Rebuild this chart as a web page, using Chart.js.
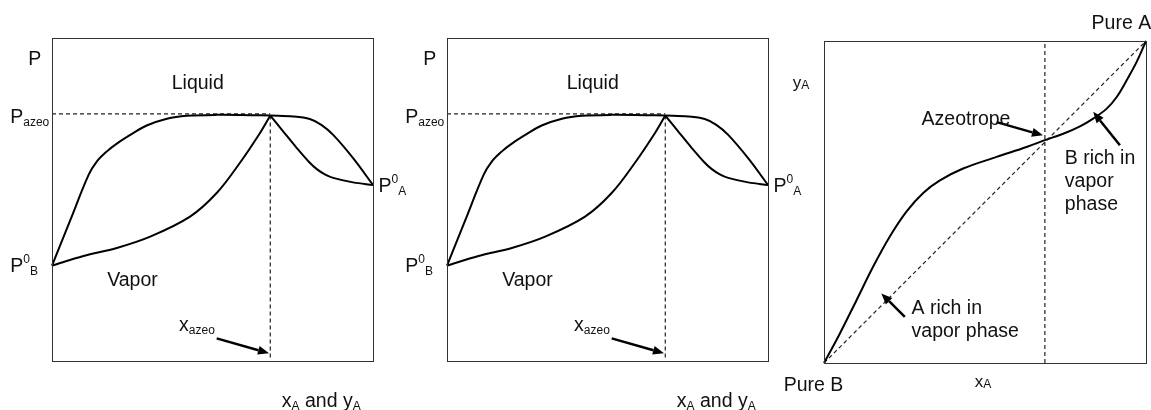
<!DOCTYPE html>
<html>
<head>
<meta charset="utf-8">
<script src="https://cdn.jsdelivr.net/npm/chart.js@4.4.1/dist/chart.umd.min.js"></script>
<style>
  html, body { margin:0; padding:0; background:#fff; }
  body { width:1151px; height:410px; position:relative; overflow:hidden; }
  canvas { position:absolute; top:0; }
</style>
</head>
<body>
<canvas id="c1" width="430" height="410" style="left:0px"></canvas>
<canvas id="c2" width="430" height="410" style="left:395px"></canvas>
<canvas id="c3" width="371" height="410" style="left:780px"></canvas>
<script>
// ---------- DATA (normalised composition 0..1, normalised pressure 0..1) ----------
const xAzeo = 0.68;
const pAzeo = 0.765;
const pPeak = 0.760;

// bubble (liquid) curve, B side of the azeotrope
const bubbleLeftX = [0, 0.057, 0.114, 0.140, 0.171, 0.202, 0.254, 0.295, 0.358, 0.420, 0.513, 0.617, 0.68];
const bubbleLeftY = [0.295, 0.436, 0.576, 0.618, 0.649, 0.673, 0.706, 0.729, 0.750, 0.759, 0.762, 0.761, 0.760];
// dew (vapor) curve, B side
const dewLeftX = [0, 0.098, 0.202, 0.306, 0.430, 0.513, 0.585, 0.648, 0.68];
const dewLeftY = [0.295, 0.325, 0.350, 0.385, 0.447, 0.520, 0.613, 0.706, 0.760];
// bubble curve, A side
const bubbleRightX = [0.68, 0.751, 0.803, 0.839, 0.876, 0.938, 1.0];
const bubbleRightY = [0.760, 0.757, 0.749, 0.731, 0.700, 0.628, 0.545];
// dew curve, A side
const dewRightX = [0.68, 0.720, 0.762, 0.800, 0.825, 0.850, 0.876, 0.938, 1.0];
const dewRightY = [0.760, 0.711, 0.660, 0.617, 0.594, 0.578, 0.567, 0.553, 0.545];

// y-x diagram
const yxX = [0, 0.049, 0.101, 0.152, 0.204, 0.256, 0.308, 0.360, 0.432, 0.536, 0.629, 0.686, 0.743, 0.795, 0.836, 0.878, 0.909, 0.940, 0.971, 1.0];
const yxY = [0, 0.091, 0.195, 0.298, 0.392, 0.470, 0.528, 0.567, 0.604, 0.640, 0.671, 0.692, 0.712, 0.735, 0.759, 0.790, 0.826, 0.878, 0.935, 1.0];
const diagX = [0, 1];
const diagY = [0, 1];

// ---------- helpers ----------
const FONT = '"Liberation Sans", Arial, Helvetica, sans-serif';
const BIG = 19.5, SMALL = 12;
const zip = (xs, ys) => xs.map((x, i) => ({ x, y: ys[i] }));

function curve(xs, ys) {
  return { data: zip(xs, ys), showLine: true, borderColor: '#000', borderWidth: 2,
    pointRadius: 0, tension: 0.35, clip: false, fill: false };
}
function dashed(points) {
  return { data: points, showLine: true, borderColor: '#222', borderWidth: 1.2,
    borderDash: [4, 3], pointRadius: 0, tension: 0, clip: false, fill: false };
}

const annotPlugin = {
  id: 'annot',
  afterDatasetsDraw(chart, args, opts) {
    const ctx = chart.ctx, ca = chart.chartArea;
    const sx = chart.scales.x, sy = chart.scales.y;
    ctx.save();
    ctx.strokeStyle = '#333';
    ctx.lineWidth = 1;
    ctx.strokeRect(Math.round(ca.left) + 0.5, Math.round(ca.top) + 0.5,
      Math.round(ca.right - ca.left), Math.round(ca.bottom - ca.top));
    ctx.strokeStyle = '#000'; ctx.fillStyle = '#000';
    (opts.arrows || []).forEach(a => {
      const x1 = sx.getPixelForValue(a[0]), y1 = sy.getPixelForValue(a[1]);
      const x2 = sx.getPixelForValue(a[2]), y2 = sy.getPixelForValue(a[3]);
      const ang = Math.atan2(y2 - y1, x2 - x1);
      const hl = 11, hw = 4.5;
      const bx = x2 - hl * Math.cos(ang), by = y2 - hl * Math.sin(ang);
      ctx.lineWidth = 2.5;
      ctx.beginPath(); ctx.moveTo(x1, y1); ctx.lineTo(bx, by); ctx.stroke();
      ctx.beginPath();
      ctx.moveTo(x2, y2);
      ctx.lineTo(bx + hw * Math.sin(ang), by - hw * Math.cos(ang));
      ctx.lineTo(bx - hw * Math.sin(ang), by + hw * Math.cos(ang));
      ctx.closePath(); ctx.fill();
    });
    ctx.fillStyle = '#111';
    ctx.textBaseline = 'alphabetic';
    ctx.textAlign = 'left';
    (opts.labels || []).forEach(l => {
      let cx = sx.getPixelForValue(l.x);
      const cy = sy.getPixelForValue(l.y);
      l.segs.forEach(s => {
        const [t, size, dy, dx] = s;
        ctx.font = size + 'px ' + FONT;
        cx += dx || 0;
        ctx.fillText(t, cx, cy + (dy || 0));
        cx += ctx.measureText(t).width;
      });
    });
    ctx.restore();
  }
};
Chart.register(annotPlugin);

function baseOptions(padding, annot) {
  return {
    responsive: false, animation: false, events: [],
    layout: { padding },
    scales: {
      x: { type: 'linear', min: 0, max: 1, display: false },
      y: { type: 'linear', min: 0, max: 1, display: false }
    },
    plugins: { legend: { display: false }, tooltip: { enabled: false }, annot }
  };
}

const pxyLabels = [
  { x: -0.074, y: 0.917, segs: [['P', BIG]] },
  { x: 0.373, y: 0.842, segs: [['Liquid', BIG]] },
  { x: -0.130, y: 0.738, segs: [['P', BIG], ['azeo', SMALL, 3]] },
  { x: -0.130, y: 0.274, segs: [['P', BIG], ['0', SMALL, -9, 0], ['B', SMALL, 3]] },
  { x: 1.017, y: 0.522, segs: [['P', BIG], ['0', SMALL, -9, 0], ['A', SMALL, 3]] },
  { x: 0.172, y: 0.232, segs: [['Vapor', BIG]] },
  { x: 0.396, y: 0.094, segs: [['x', BIG], ['azeo', SMALL, 3]] },
  { x: 0.716, y: -0.142, segs: [['x', BIG], ['A', SMALL, 3], [' and y', BIG], ['A', SMALL, 3]] }
];
const pxyArrows = [[0.513, 0.070, 0.676, 0.024]];

function pxyChart(id) {
  return new Chart(document.getElementById(id), {
    type: 'scatter',
    data: { datasets: [
      curve(bubbleLeftX, bubbleLeftY),
      curve(dewLeftX, dewLeftY),
      curve(bubbleRightX, bubbleRightY),
      curve(dewRightX, dewRightY),
      dashed([{ x: 0, y: pAzeo }, { x: xAzeo, y: pAzeo }]),
      dashed([{ x: xAzeo, y: pPeak }, { x: xAzeo, y: 0.01 }])
    ]},
    options: baseOptions({ left: 52, top: 38, right: 57, bottom: 49 },
      { labels: pxyLabels, arrows: pxyArrows })
  });
}
pxyChart('c1');
pxyChart('c2');

new Chart(document.getElementById('c3'), {
  type: 'scatter',
  data: { datasets: [
    curve(yxX, yxY),
    dashed(zip(diagX, diagY)),
    dashed([{ x: 0.686, y: 0 }, { x: 0.686, y: 1 }])
  ]},
  options: baseOptions({ left: 44, top: 41, right: 5, bottom: 47 }, {
    labels: [
      { x: 0.831, y: 1.038, segs: [['Pure A', BIG]] },
      { x: -0.097, y: 0.853, segs: [['y', 17], ['A', SMALL, 1]] },
      { x: 0.303, y: 0.738, segs: [['Azeotrope', BIG]] },
      { x: 0.748, y: 0.619, segs: [['B rich in', BIG]] },
      { x: 0.748, y: 0.547, segs: [['vapor', BIG]] },
      { x: 0.748, y: 0.474, segs: [['phase', BIG]] },
      { x: 0.272, y: 0.153, segs: [['A rich in', BIG]] },
      { x: 0.272, y: 0.081, segs: [['vapor phase', BIG]] },
      { x: -0.125, y: -0.087, segs: [['Pure B', BIG]] },
      { x: 0.468, y: -0.076, segs: [['x', 17], ['A', SMALL, 1]] }
    ],
    arrows: [
      [0.536, 0.748, 0.680, 0.707],
      [0.919, 0.676, 0.836, 0.780],
      [0.251, 0.143, 0.178, 0.216]
    ]
  })
});
</script>
</body>
</html>
